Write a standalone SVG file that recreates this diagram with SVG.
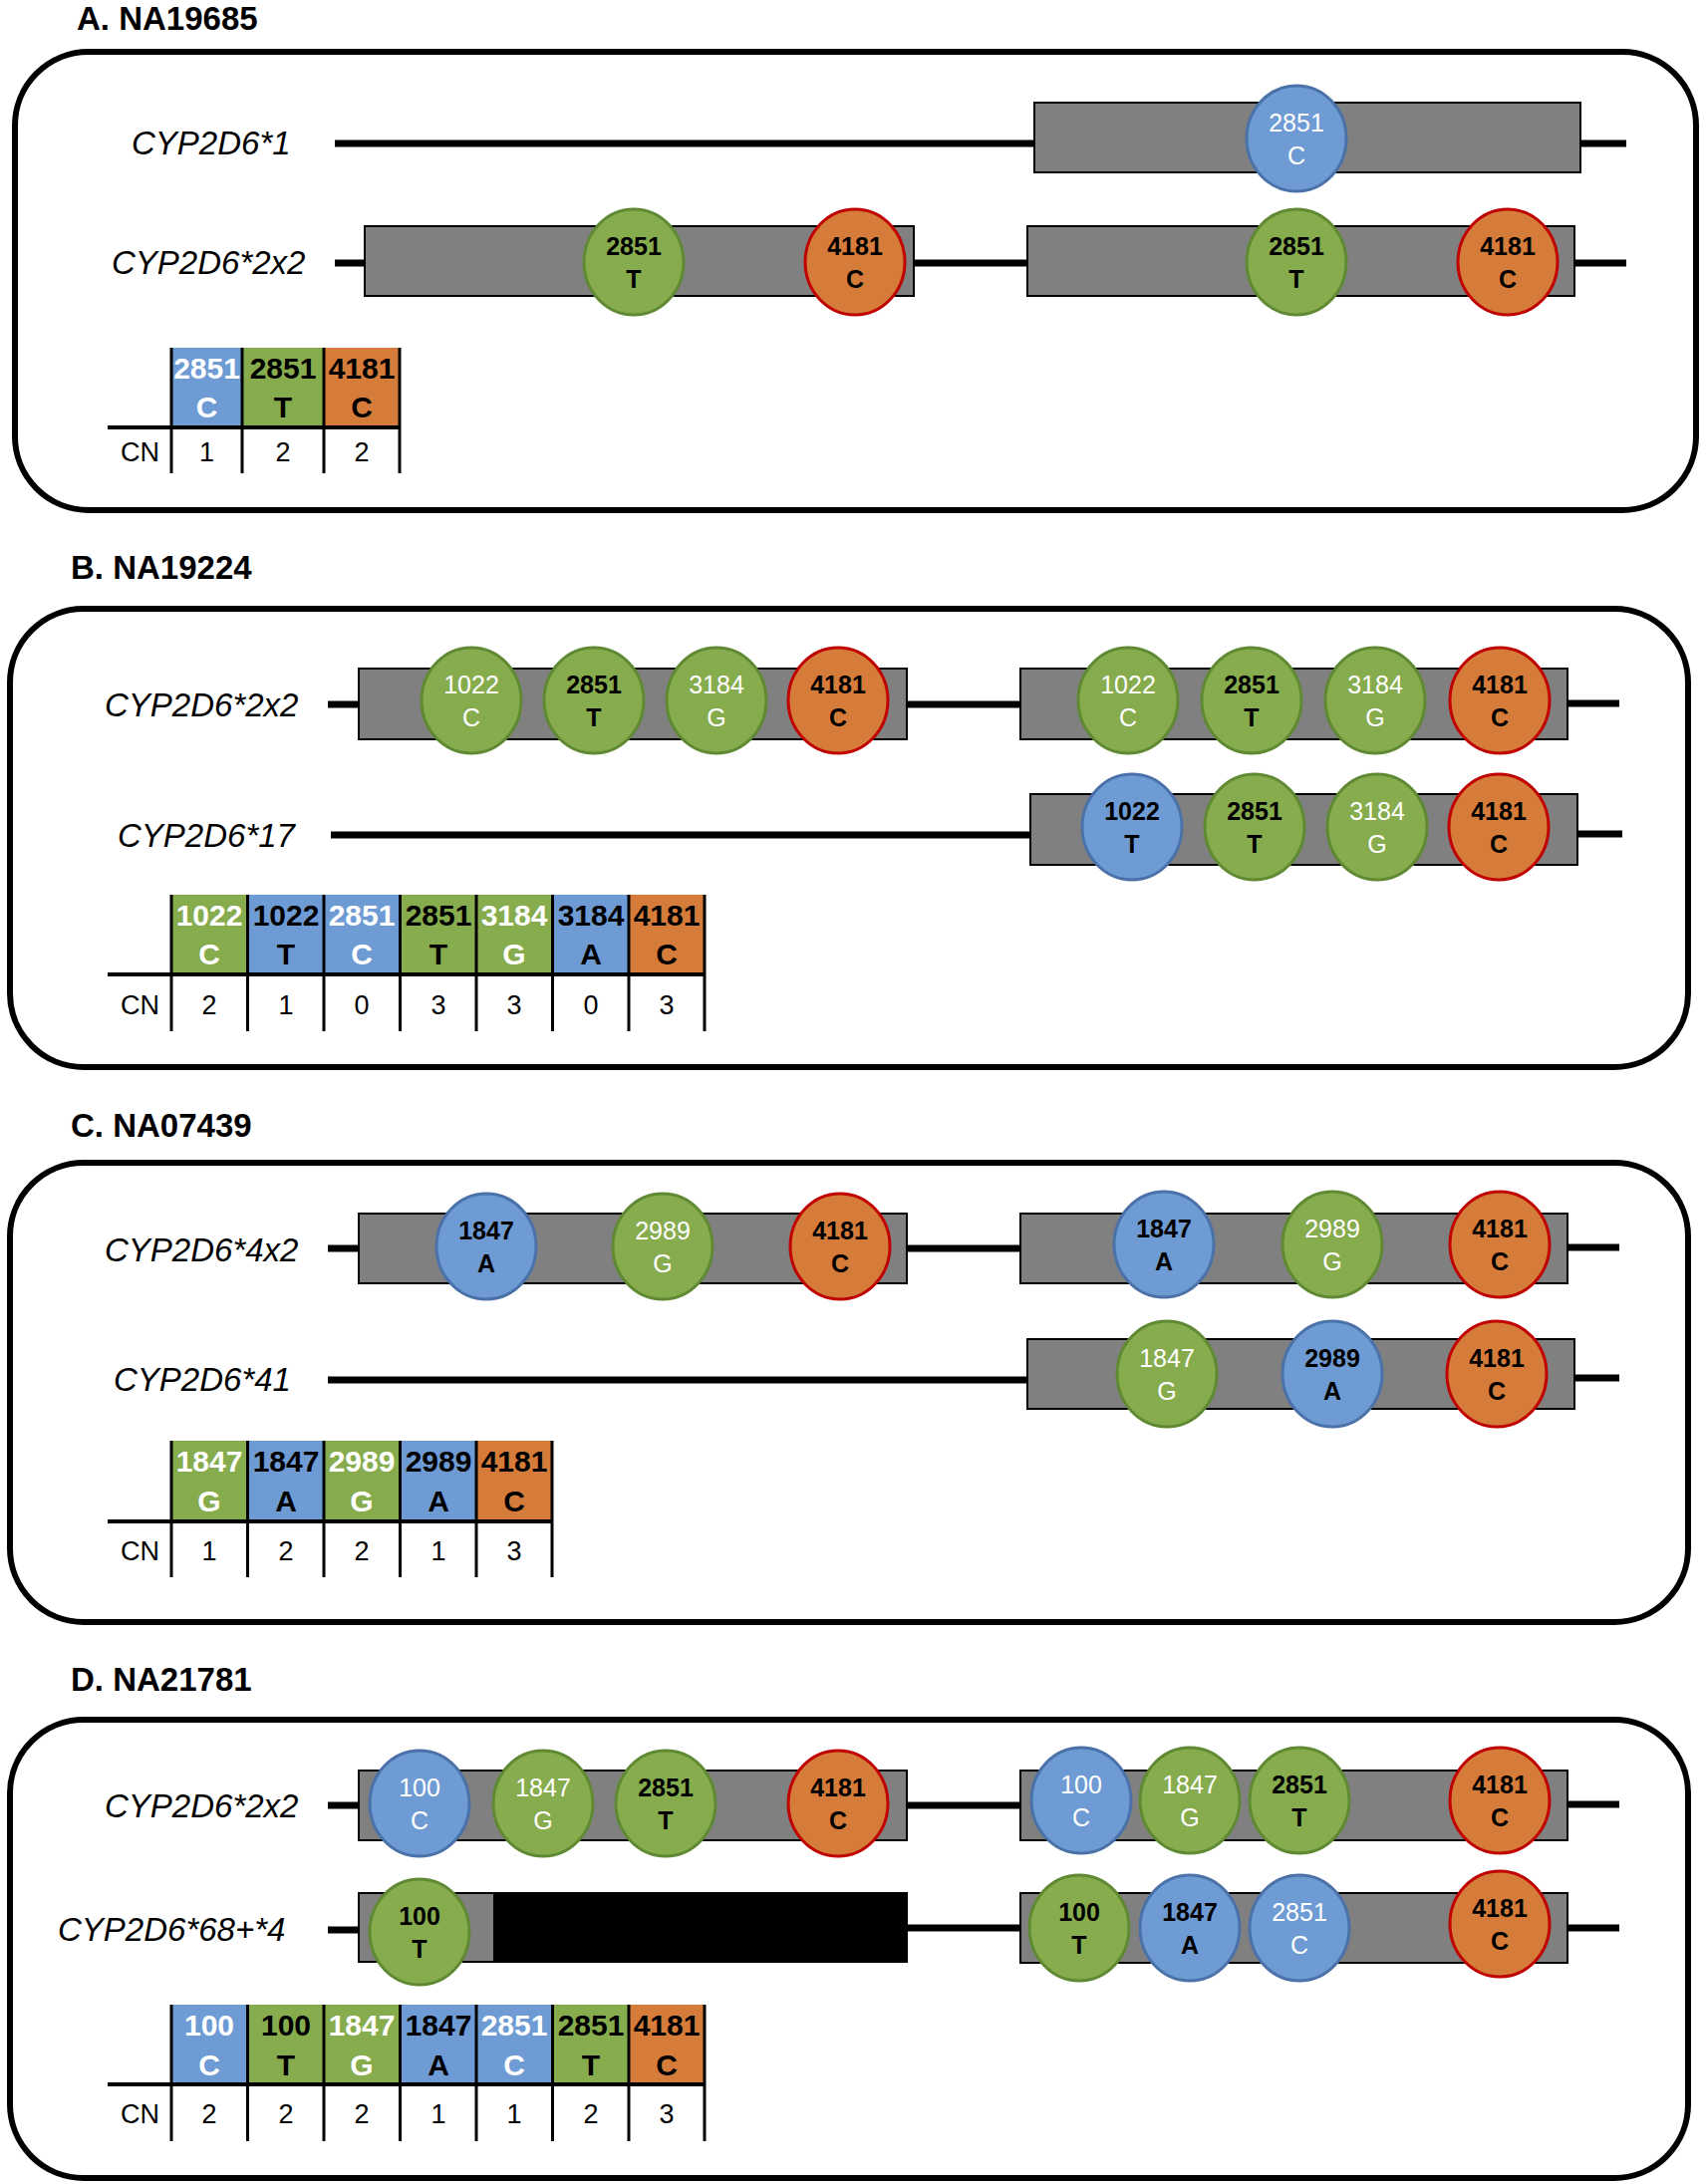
<svg xmlns="http://www.w3.org/2000/svg" width="1713" height="2192" viewBox="0 0 1713 2192">
<style>
text{font-family:"Liberation Sans",Arial,sans-serif}
.ttl{font-size:33px;font-weight:bold;fill:#000}
.lab{font-size:33px;font-style:italic;fill:#000}
.frame{fill:none;stroke:#000;stroke-width:6}
.gene{fill:#808080;stroke:#000;stroke-width:2}
.del{fill:#000;stroke:#000;stroke-width:2}
.wire{stroke:#000;stroke-width:7;fill:none}
.tl{stroke:#000;stroke-width:3;fill:none}
.th{stroke:#000;stroke-width:4;fill:none}
.b{fill:#6E9BD4;stroke:#4A72A8;stroke-width:3}
.g{fill:#86AC4E;stroke:#5F8A33;stroke-width:3}
.o{fill:#D67C3A;stroke:#C00000;stroke-width:3}
.hb{fill:#6E9BD4}
.hg{fill:#86AC4E}
.ho{fill:#D67C3A}
.cw{font-size:25px;fill:#fff;text-anchor:middle}
.cb{font-size:25px;font-weight:bold;fill:#000;text-anchor:middle}
.hw{font-size:30px;font-weight:bold;fill:#fff;text-anchor:middle}
.hk{font-size:30px;font-weight:bold;fill:#000;text-anchor:middle}
.cn{font-size:27px;fill:#000}
.cv{font-size:27px;fill:#000;text-anchor:middle}
</style>

<!-- Frames and titles -->
<g id="panelA">
<text class="ttl" x="77" y="30">A. NA19685</text>
<rect class="frame" x="15" y="52" width="1687" height="460" rx="74"/>
</g>
<g id="panelB">
<text class="ttl" x="71" y="581">B. NA19224</text>
<rect class="frame" x="10" y="611" width="1684" height="460" rx="74"/>
</g>
<g id="panelC">
<text class="ttl" x="71" y="1141">C. NA07439</text>
<rect class="frame" x="10" y="1167" width="1684" height="461" rx="74"/>
</g>
<g id="panelD">
<text class="ttl" x="71" y="1697">D. NA21781</text>
<rect class="frame" x="10" y="1726" width="1684" height="460" rx="74"/>
</g>

<!-- Connectors -->
<g id="connectors">
<line class="wire" x1="336" y1="144" x2="1040" y2="144"/>
<line class="wire" x1="1585" y1="144" x2="1632" y2="144"/>
<line class="wire" x1="336" y1="264" x2="368" y2="264"/>
<line class="wire" x1="915" y1="264" x2="1033" y2="264"/>
<line class="wire" x1="1578" y1="264" x2="1632" y2="264"/>

<line class="wire" x1="329" y1="707" x2="362" y2="707"/>
<line class="wire" x1="908" y1="707" x2="1026" y2="707"/>
<line class="wire" x1="1571" y1="706" x2="1625" y2="706"/>
<line class="wire" x1="332" y1="838" x2="1036" y2="838"/>
<line class="wire" x1="1581" y1="837" x2="1628" y2="837"/>

<line class="wire" x1="329" y1="1253" x2="362" y2="1253"/>
<line class="wire" x1="908" y1="1253" x2="1026" y2="1253"/>
<line class="wire" x1="1571" y1="1252" x2="1625" y2="1252"/>
<line class="wire" x1="329" y1="1385" x2="1033" y2="1385"/>
<line class="wire" x1="1578" y1="1383" x2="1625" y2="1383"/>

<line class="wire" x1="329" y1="1812" x2="362" y2="1812"/>
<line class="wire" x1="908" y1="1812" x2="1026" y2="1812"/>
<line class="wire" x1="1571" y1="1811" x2="1625" y2="1811"/>
<line class="wire" x1="329" y1="1937" x2="362" y2="1937"/>
<line class="wire" x1="908" y1="1935" x2="1026" y2="1935"/>
<line class="wire" x1="1571" y1="1935" x2="1625" y2="1935"/>
</g>

<!-- Panel A alleles -->
<g id="A-label1"><text class="lab" x="132" y="155">CYP2D6*1</text></g>
<g id="A-label2"><text class="lab" x="112" y="275">CYP2D6*2x2</text></g>
<g id="A-gene1"><rect class="gene" x="1038" y="103" width="548" height="70"/></g>
<g id="A-gene2a"><rect class="gene" x="366" y="227" width="551" height="70"/></g>
<g id="A-gene2b"><rect class="gene" x="1031" y="227" width="549" height="70"/></g>
<g id="A-s1"><ellipse class="b" cx="1301" cy="139" rx="50" ry="53"/><text class="cw" x="1301" y="132">2851</text><text class="cw" x="1301" y="165">C</text></g>
<g id="A-s2"><ellipse class="g" cx="636" cy="263" rx="50" ry="53"/><text class="cb" x="636" y="256">2851</text><text class="cb" x="636" y="289">T</text></g>
<g id="A-s3"><ellipse class="o" cx="858" cy="263" rx="50" ry="53"/><text class="cb" x="858" y="256">4181</text><text class="cb" x="858" y="289">C</text></g>
<g id="A-s4"><ellipse class="g" cx="1301" cy="263" rx="50" ry="53"/><text class="cb" x="1301" y="256">2851</text><text class="cb" x="1301" y="289">T</text></g>
<g id="A-s5"><ellipse class="o" cx="1513" cy="263" rx="50" ry="53"/><text class="cb" x="1513" y="256">4181</text><text class="cb" x="1513" y="289">C</text></g>

<g id="A-table">
<rect class="hb" x="172" y="349" width="71" height="80"/>
<rect class="hg" x="243" y="349" width="82" height="80"/>
<rect class="ho" x="325" y="349" width="76" height="80"/>
<text class="hw" x="207.5" y="380">2851</text><text class="hw" x="207.5" y="419">C</text>
<text class="hk" x="284" y="380">2851</text><text class="hk" x="284" y="419">T</text>
<text class="hk" x="363" y="380">4181</text><text class="hk" x="363" y="419">C</text>
<line class="th" x1="108" y1="429" x2="402" y2="429"/>
<line class="tl" x1="172" y1="349" x2="172" y2="475"/>
<line class="tl" x1="243" y1="349" x2="243" y2="475"/>
<line class="tl" x1="325" y1="349" x2="325" y2="475"/>
<line class="tl" x1="401" y1="349" x2="401" y2="475"/>
<text class="cn" x="121" y="463">CN</text>
<text class="cv" x="207.5" y="463">1</text>
<text class="cv" x="284" y="463">2</text>
<text class="cv" x="363" y="463">2</text>
</g>

<!-- Panel B alleles -->
<g id="B-label1"><text class="lab" x="105" y="719">CYP2D6*2x2</text></g>
<g id="B-label2"><text class="lab" x="118" y="850">CYP2D6*17</text></g>
<g id="B-gene1a"><rect class="gene" x="360" y="671" width="550" height="71"/></g>
<g id="B-gene1b"><rect class="gene" x="1024" y="671" width="549" height="71"/></g>
<g id="B-gene2"><rect class="gene" x="1034" y="797" width="549" height="71"/></g>
<g id="B-s1"><ellipse class="g" cx="473" cy="703" rx="50" ry="53"/><text class="cw" x="473" y="696">1022</text><text class="cw" x="473" y="729">C</text></g>
<g id="B-s2"><ellipse class="g" cx="596" cy="703" rx="50" ry="53"/><text class="cb" x="596" y="696">2851</text><text class="cb" x="596" y="729">T</text></g>
<g id="B-s3"><ellipse class="g" cx="719" cy="703" rx="50" ry="53"/><text class="cw" x="719" y="696">3184</text><text class="cw" x="719" y="729">G</text></g>
<g id="B-s4"><ellipse class="o" cx="841" cy="703" rx="50" ry="53"/><text class="cb" x="841" y="696">4181</text><text class="cb" x="841" y="729">C</text></g>
<g id="B-s5"><ellipse class="g" cx="1132" cy="703" rx="50" ry="53"/><text class="cw" x="1132" y="696">1022</text><text class="cw" x="1132" y="729">C</text></g>
<g id="B-s6"><ellipse class="g" cx="1256" cy="703" rx="50" ry="53"/><text class="cb" x="1256" y="696">2851</text><text class="cb" x="1256" y="729">T</text></g>
<g id="B-s7"><ellipse class="g" cx="1380" cy="703" rx="50" ry="53"/><text class="cw" x="1380" y="696">3184</text><text class="cw" x="1380" y="729">G</text></g>
<g id="B-s8"><ellipse class="o" cx="1505" cy="703" rx="50" ry="53"/><text class="cb" x="1505" y="696">4181</text><text class="cb" x="1505" y="729">C</text></g>
<g id="B-s9"><ellipse class="b" cx="1136" cy="830" rx="50" ry="53"/><text class="cb" x="1136" y="823">1022</text><text class="cb" x="1136" y="856">T</text></g>
<g id="B-s10"><ellipse class="g" cx="1259" cy="830" rx="50" ry="53"/><text class="cb" x="1259" y="823">2851</text><text class="cb" x="1259" y="856">T</text></g>
<g id="B-s11"><ellipse class="g" cx="1382" cy="830" rx="50" ry="53"/><text class="cw" x="1382" y="823">3184</text><text class="cw" x="1382" y="856">G</text></g>
<g id="B-s12"><ellipse class="o" cx="1504" cy="830" rx="50" ry="53"/><text class="cb" x="1504" y="823">4181</text><text class="cb" x="1504" y="856">C</text></g>

<g id="B-table">
<rect class="hg" x="172" y="898" width="76.5" height="80"/>
<rect class="hb" x="248.5" y="898" width="76.5" height="80"/>
<rect class="hb" x="325" y="898" width="76.5" height="80"/>
<rect class="hg" x="401.5" y="898" width="76.5" height="80"/>
<rect class="hg" x="478" y="898" width="76.5" height="80"/>
<rect class="hb" x="554.5" y="898" width="76.5" height="80"/>
<rect class="ho" x="631" y="898" width="76" height="80"/>
<text class="hw" x="210" y="929">1022</text><text class="hw" x="210" y="968">C</text>
<text class="hk" x="287" y="929">1022</text><text class="hk" x="287" y="968">T</text>
<text class="hw" x="363" y="929">2851</text><text class="hw" x="363" y="968">C</text>
<text class="hk" x="440" y="929">2851</text><text class="hk" x="440" y="968">T</text>
<text class="hw" x="516" y="929">3184</text><text class="hw" x="516" y="968">G</text>
<text class="hk" x="593" y="929">3184</text><text class="hk" x="593" y="968">A</text>
<text class="hk" x="669" y="929">4181</text><text class="hk" x="669" y="968">C</text>
<line class="th" x1="108" y1="978" x2="708" y2="978"/>
<line class="tl" x1="172" y1="898" x2="172" y2="1035"/>
<line class="tl" x1="248.5" y1="898" x2="248.5" y2="1035"/>
<line class="tl" x1="325" y1="898" x2="325" y2="1035"/>
<line class="tl" x1="401.5" y1="898" x2="401.5" y2="1035"/>
<line class="tl" x1="478" y1="898" x2="478" y2="1035"/>
<line class="tl" x1="554.5" y1="898" x2="554.5" y2="1035"/>
<line class="tl" x1="631" y1="898" x2="631" y2="1035"/>
<line class="tl" x1="707" y1="898" x2="707" y2="1035"/>
<text class="cn" x="121" y="1018">CN</text>
<text class="cv" x="210" y="1018">2</text>
<text class="cv" x="287" y="1018">1</text>
<text class="cv" x="363" y="1018">0</text>
<text class="cv" x="440" y="1018">3</text>
<text class="cv" x="516" y="1018">3</text>
<text class="cv" x="593" y="1018">0</text>
<text class="cv" x="669" y="1018">3</text>
</g>

<!-- Panel C alleles -->
<g id="C-label1"><text class="lab" x="105" y="1266">CYP2D6*4x2</text></g>
<g id="C-label2"><text class="lab" x="114" y="1396">CYP2D6*41</text></g>
<g id="C-gene1a"><rect class="gene" x="360" y="1218" width="550" height="70"/></g>
<g id="C-gene1b"><rect class="gene" x="1024" y="1218" width="549" height="70"/></g>
<g id="C-gene2"><rect class="gene" x="1031" y="1344" width="549" height="70"/></g>
<g id="C-s1"><ellipse class="b" cx="488" cy="1251" rx="50" ry="53"/><text class="cb" x="488" y="1244">1847</text><text class="cb" x="488" y="1277">A</text></g>
<g id="C-s2"><ellipse class="g" cx="665" cy="1251" rx="50" ry="53"/><text class="cw" x="665" y="1244">2989</text><text class="cw" x="665" y="1277">G</text></g>
<g id="C-s3"><ellipse class="o" cx="843" cy="1251" rx="50" ry="53"/><text class="cb" x="843" y="1244">4181</text><text class="cb" x="843" y="1277">C</text></g>
<g id="C-s4"><ellipse class="b" cx="1168" cy="1249" rx="50" ry="53"/><text class="cb" x="1168" y="1242">1847</text><text class="cb" x="1168" y="1275">A</text></g>
<g id="C-s5"><ellipse class="g" cx="1337" cy="1249" rx="50" ry="53"/><text class="cw" x="1337" y="1242">2989</text><text class="cw" x="1337" y="1275">G</text></g>
<g id="C-s6"><ellipse class="o" cx="1505" cy="1249" rx="50" ry="53"/><text class="cb" x="1505" y="1242">4181</text><text class="cb" x="1505" y="1275">C</text></g>
<g id="C-s7"><ellipse class="g" cx="1171" cy="1379" rx="50" ry="53"/><text class="cw" x="1171" y="1372">1847</text><text class="cw" x="1171" y="1405">G</text></g>
<g id="C-s8"><ellipse class="b" cx="1337" cy="1379" rx="50" ry="53"/><text class="cb" x="1337" y="1372">2989</text><text class="cb" x="1337" y="1405">A</text></g>
<g id="C-s9"><ellipse class="o" cx="1502" cy="1379" rx="50" ry="53"/><text class="cb" x="1502" y="1372">4181</text><text class="cb" x="1502" y="1405">C</text></g>

<g id="C-table">
<rect class="hg" x="172" y="1446" width="76.5" height="81"/>
<rect class="hb" x="248.5" y="1446" width="76.5" height="81"/>
<rect class="hg" x="325" y="1446" width="76.5" height="81"/>
<rect class="hb" x="401.5" y="1446" width="76.5" height="81"/>
<rect class="ho" x="478" y="1446" width="76" height="81"/>
<text class="hw" x="210" y="1477">1847</text><text class="hw" x="210" y="1517">G</text>
<text class="hk" x="287" y="1477">1847</text><text class="hk" x="287" y="1517">A</text>
<text class="hw" x="363" y="1477">2989</text><text class="hw" x="363" y="1517">G</text>
<text class="hk" x="440" y="1477">2989</text><text class="hk" x="440" y="1517">A</text>
<text class="hk" x="516" y="1477">4181</text><text class="hk" x="516" y="1517">C</text>
<line class="th" x1="108" y1="1527" x2="555" y2="1527"/>
<line class="tl" x1="172" y1="1446" x2="172" y2="1583"/>
<line class="tl" x1="248.5" y1="1446" x2="248.5" y2="1583"/>
<line class="tl" x1="325" y1="1446" x2="325" y2="1583"/>
<line class="tl" x1="401.5" y1="1446" x2="401.5" y2="1583"/>
<line class="tl" x1="478" y1="1446" x2="478" y2="1583"/>
<line class="tl" x1="554" y1="1446" x2="554" y2="1583"/>
<text class="cn" x="121" y="1566">CN</text>
<text class="cv" x="210" y="1566">1</text>
<text class="cv" x="287" y="1566">2</text>
<text class="cv" x="363" y="1566">2</text>
<text class="cv" x="440" y="1566">1</text>
<text class="cv" x="516" y="1566">3</text>
</g>

<!-- Panel D alleles -->
<g id="D-label1"><text class="lab" x="105" y="1824">CYP2D6*2x2</text></g>
<g id="D-label2"><text class="lab" x="58" y="1948">CYP2D6*68+*4</text></g>
<g id="D-gene1a"><rect class="gene" x="360" y="1777" width="550" height="70"/></g>
<g id="D-gene1b"><rect class="gene" x="1024" y="1777" width="549" height="70"/></g>
<g id="D-gene2a"><rect class="gene" x="360" y="1900" width="136" height="69"/><rect class="del" x="496" y="1900" width="414" height="69"/></g>
<g id="D-gene2b"><rect class="gene" x="1024" y="1900" width="549" height="70"/></g>
<g id="D-s1"><ellipse class="b" cx="421" cy="1810" rx="50" ry="53"/><text class="cw" x="421" y="1803">100</text><text class="cw" x="421" y="1836">C</text></g>
<g id="D-s2"><ellipse class="g" cx="545" cy="1810" rx="50" ry="53"/><text class="cw" x="545" y="1803">1847</text><text class="cw" x="545" y="1836">G</text></g>
<g id="D-s3"><ellipse class="g" cx="668" cy="1810" rx="50" ry="53"/><text class="cb" x="668" y="1803">2851</text><text class="cb" x="668" y="1836">T</text></g>
<g id="D-s4"><ellipse class="o" cx="841" cy="1810" rx="50" ry="53"/><text class="cb" x="841" y="1803">4181</text><text class="cb" x="841" y="1836">C</text></g>
<g id="D-s5"><ellipse class="b" cx="1085" cy="1807" rx="50" ry="53"/><text class="cw" x="1085" y="1800">100</text><text class="cw" x="1085" y="1833">C</text></g>
<g id="D-s6"><ellipse class="g" cx="1194" cy="1807" rx="50" ry="53"/><text class="cw" x="1194" y="1800">1847</text><text class="cw" x="1194" y="1833">G</text></g>
<g id="D-s7"><ellipse class="g" cx="1304" cy="1807" rx="50" ry="53"/><text class="cb" x="1304" y="1800">2851</text><text class="cb" x="1304" y="1833">T</text></g>
<g id="D-s8"><ellipse class="o" cx="1505" cy="1807" rx="50" ry="53"/><text class="cb" x="1505" y="1800">4181</text><text class="cb" x="1505" y="1833">C</text></g>
<g id="D-s9"><ellipse class="g" cx="421" cy="1939" rx="50" ry="53"/><text class="cb" x="421" y="1932">100</text><text class="cb" x="421" y="1965">T</text></g>
<g id="D-s10"><ellipse class="g" cx="1083" cy="1935" rx="50" ry="53"/><text class="cb" x="1083" y="1928">100</text><text class="cb" x="1083" y="1961">T</text></g>
<g id="D-s11"><ellipse class="b" cx="1194" cy="1935" rx="50" ry="53"/><text class="cb" x="1194" y="1928">1847</text><text class="cb" x="1194" y="1961">A</text></g>
<g id="D-s12"><ellipse class="b" cx="1304" cy="1935" rx="50" ry="53"/><text class="cw" x="1304" y="1928">2851</text><text class="cw" x="1304" y="1961">C</text></g>
<g id="D-s13"><ellipse class="o" cx="1505" cy="1931" rx="50" ry="53"/><text class="cb" x="1505" y="1924">4181</text><text class="cb" x="1505" y="1957">C</text></g>

<g id="D-table">
<rect class="hb" x="172" y="2012" width="76.5" height="80"/>
<rect class="hg" x="248.5" y="2012" width="76.5" height="80"/>
<rect class="hg" x="325" y="2012" width="76.5" height="80"/>
<rect class="hb" x="401.5" y="2012" width="76.5" height="80"/>
<rect class="hb" x="478" y="2012" width="76.5" height="80"/>
<rect class="hg" x="554.5" y="2012" width="76.5" height="80"/>
<rect class="ho" x="631" y="2012" width="76" height="80"/>
<text class="hw" x="210" y="2043">100</text><text class="hw" x="210" y="2083">C</text>
<text class="hk" x="287" y="2043">100</text><text class="hk" x="287" y="2083">T</text>
<text class="hw" x="363" y="2043">1847</text><text class="hw" x="363" y="2083">G</text>
<text class="hk" x="440" y="2043">1847</text><text class="hk" x="440" y="2083">A</text>
<text class="hw" x="516" y="2043">2851</text><text class="hw" x="516" y="2083">C</text>
<text class="hk" x="593" y="2043">2851</text><text class="hk" x="593" y="2083">T</text>
<text class="hk" x="669" y="2043">4181</text><text class="hk" x="669" y="2083">C</text>
<line class="th" x1="108" y1="2092" x2="708" y2="2092"/>
<line class="tl" x1="172" y1="2012" x2="172" y2="2149"/>
<line class="tl" x1="248.5" y1="2012" x2="248.5" y2="2149"/>
<line class="tl" x1="325" y1="2012" x2="325" y2="2149"/>
<line class="tl" x1="401.5" y1="2012" x2="401.5" y2="2149"/>
<line class="tl" x1="478" y1="2012" x2="478" y2="2149"/>
<line class="tl" x1="554.5" y1="2012" x2="554.5" y2="2149"/>
<line class="tl" x1="631" y1="2012" x2="631" y2="2149"/>
<line class="tl" x1="707" y1="2012" x2="707" y2="2149"/>
<text class="cn" x="121" y="2131">CN</text>
<text class="cv" x="210" y="2131">2</text>
<text class="cv" x="287" y="2131">2</text>
<text class="cv" x="363" y="2131">2</text>
<text class="cv" x="440" y="2131">1</text>
<text class="cv" x="516" y="2131">1</text>
<text class="cv" x="593" y="2131">2</text>
<text class="cv" x="669" y="2131">3</text>
</g>
</svg>
